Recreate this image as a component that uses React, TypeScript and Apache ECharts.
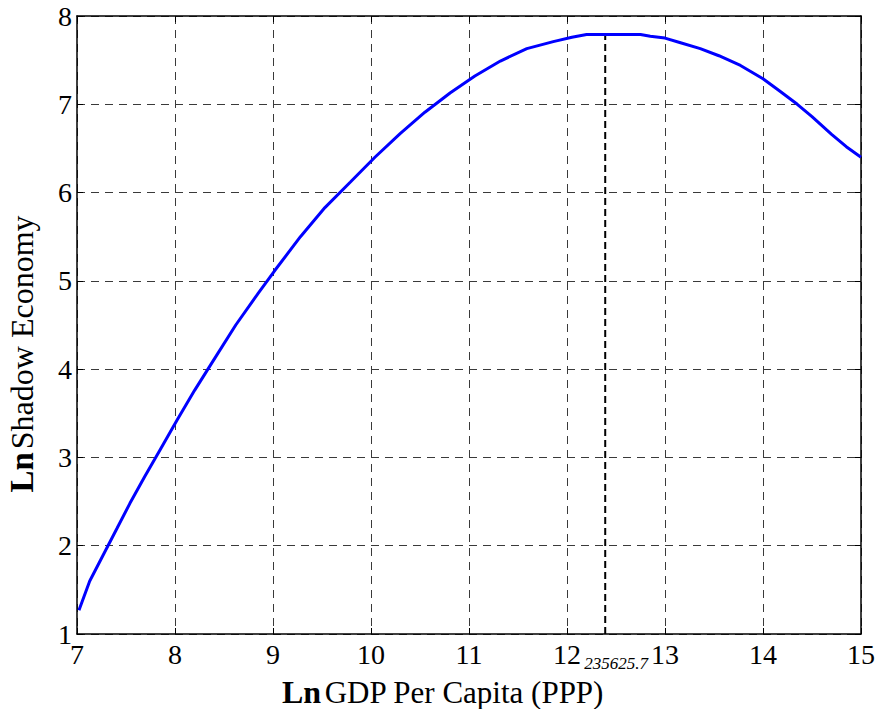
import React, { useEffect, useRef } from "react";
import * as echarts from "echarts";

const xTicks = [7, 8, 9, 10, 11, 12, 13, 14, 15];
const yTicks = [1, 2, 3, 4, 5, 6, 7, 8];

const curveX = [
  7.02, 7.13, 7.27, 7.41, 7.54, 7.69, 7.85, 8.02, 8.2, 8.41, 8.62, 8.85, 9.02, 9.28,
  9.53, 9.79, 10.04, 10.3, 10.55, 10.81, 11.06, 11.32, 11.59, 11.86, 12.05, 12.2,
  12.75, 12.85, 13.0, 13.15, 13.36, 13.55, 13.77, 14.0, 14.17, 14.35, 14.5, 14.7,
  14.85, 15.0,
];
const curveY = [
  1.27, 1.6, 1.9, 2.2, 2.48, 2.78, 3.09, 3.42, 3.76, 4.13, 4.5, 4.86, 5.12, 5.5,
  5.83, 6.12, 6.4, 6.67, 6.91, 7.13, 7.32, 7.49, 7.63, 7.71, 7.76, 7.79,
  7.79, 7.77, 7.75, 7.7, 7.63, 7.55, 7.44, 7.29, 7.15, 7.0, 6.86, 6.66,
  6.52, 6.4,
];

const peakX = 12.39;
const peakY = 7.79;
const peakLabel = "235625.7";

const FONT = "Liberation Serif";

export default function App() {
  const ref = useRef<HTMLDivElement>(null);

  useEffect(() => {
    document.body.style.margin = "0";
    if (!ref.current) return;
    const chart = echarts.init(ref.current, undefined, { renderer: "svg" });
    const xMin = xTicks[0];
    const xMax = xTicks[xTicks.length - 1];
    const yMin = yTicks[0];
    const yMax = yTicks[yTicks.length - 1];

    const axisCommon = {
      type: "value" as const,
      interval: 1,
      axisLine: { show: true, onZero: false, lineStyle: { color: "#000", width: 1.5 } },
      axisTick: { show: true, inside: true, length: 6, lineStyle: { color: "#000", width: 1 } },
    };

    chart.setOption({
      animation: false,
      backgroundColor: "#fff",
      textStyle: { fontFamily: FONT },
      grid: { left: 77, right: 19, top: 16, bottom: 75, containLabel: false },
      xAxis: [
        {
          ...axisCommon,
          min: xMin,
          max: xMax,
          position: "bottom",
          axisLabel: { color: "#000", fontFamily: FONT, fontSize: 28, margin: 7, lineHeight: 26 },
          splitLine: { show: true, lineStyle: { color: "#3a3a3a", type: [8, 6], width: 1 } },
        },
        {
          ...axisCommon,
          min: xMin,
          max: xMax,
          position: "top",
          axisLabel: { show: false },
          splitLine: { show: false },
        },
      ],
      yAxis: [
        {
          ...axisCommon,
          min: yMin,
          max: yMax,
          position: "left",
          axisLabel: { color: "#000", fontFamily: FONT, fontSize: 28, margin: 5 },
          splitLine: { show: true, lineStyle: { color: "#3a3a3a", type: [8, 6], width: 1 } },
        },
        {
          ...axisCommon,
          min: yMin,
          max: yMax,
          position: "right",
          axisLabel: { show: false },
          splitLine: { show: false },
        },
      ],
      series: [
        {
          type: "line",
          data: curveX.map((x, i) => [x, curveY[i]]),
          showSymbol: false,
          symbol: "none",
          lineStyle: { color: "#0000ff", width: 3 },
          z: 3,
        },
        {
          type: "line",
          data: [
            [peakX, yMin],
            [peakX, peakY],
          ],
          showSymbol: false,
          symbol: "none",
          lineStyle: { color: "#000", width: 2, type: [7, 4] },
          z: 2,
        },
      ],
    });

    const px = chart.convertToPixel({ xAxisIndex: 0 }, peakX) as number;
    const py = chart.convertToPixel({ yAxisIndex: 0 }, yMin) as number;

    chart.setOption({
      graphic: [
        {
          type: "text",
          x: px + 11,
          y: py + 29,
          z: 10,
          style: {
            text: peakLabel,
            align: "center",
            verticalAlign: "middle",
            fontFamily: FONT,
            fontStyle: "italic",
            fontSize: 17,
            lineHeight: 14,
            fill: "#000",
          },
        },
        {
          type: "text",
          x: 443,
          y: 692,
          style: {
            text: "{b|Ln} {n|GDP Per Capita (PPP)}",
            align: "center",
            verticalAlign: "middle",
            fill: "#000",
            fontFamily: FONT,
            rich: {
              b: { fontFamily: FONT, fontWeight: "bold", fontSize: 32, lineHeight: 24, fill: "#000" },
              n: { fontFamily: FONT, fontSize: 31, lineHeight: 24, fill: "#000" },
            },
          },
        },
        {
          type: "text",
          x: 22,
          y: 354,
          rotation: Math.PI / 2,
          style: {
            text: "{b|Ln} {n|Shadow Economy}",
            align: "center",
            verticalAlign: "middle",
            fill: "#000",
            fontFamily: FONT,
            rich: {
              b: { fontFamily: FONT, fontWeight: "bold", fontSize: 33, fill: "#000" },
              n: { fontFamily: FONT, fontSize: 32, fill: "#000" },
            },
          },
        },
      ],
    });
    return () => chart.dispose();
  }, []);

  return <div ref={ref} style={{ width: 880, height: 709 }} />;
}
